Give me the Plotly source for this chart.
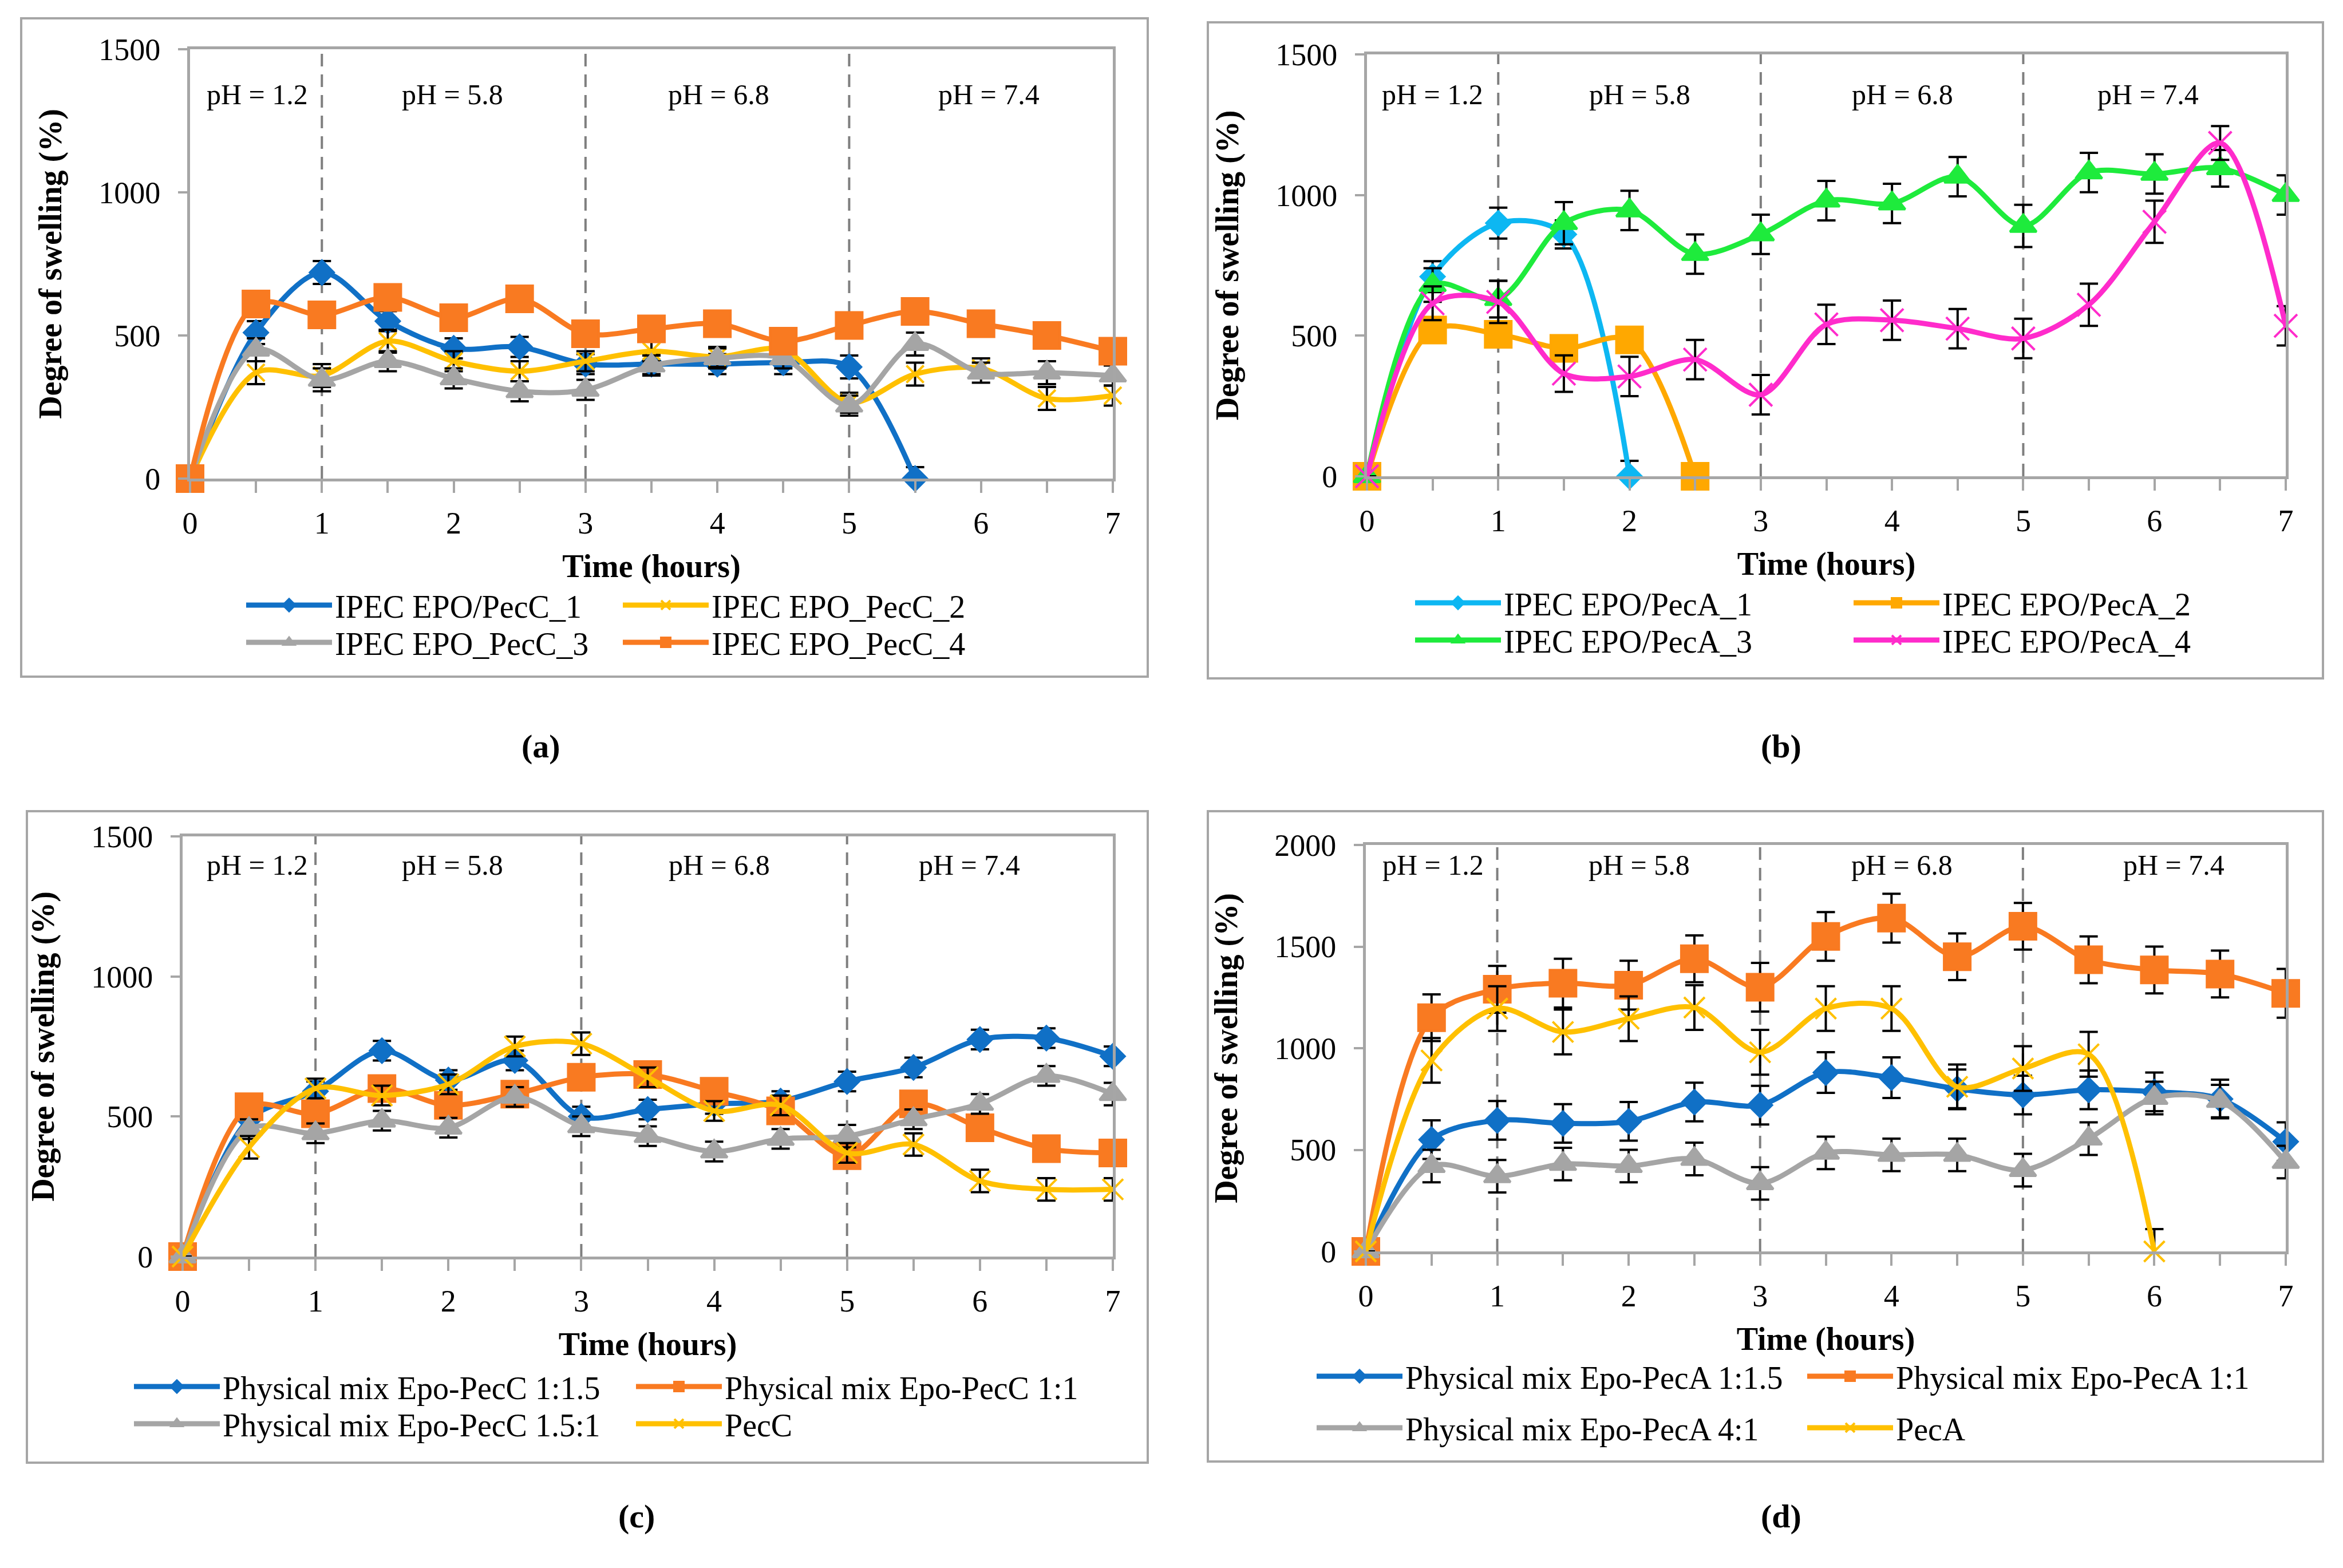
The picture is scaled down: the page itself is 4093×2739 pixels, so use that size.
import plotly.graph_objects as go

W, H = 4093, 2739

# time points (hours)
time_h = [0, 0.5, 1, 1.5, 2, 2.5, 3, 3.5, 4, 4.5, 5, 5.5, 6, 6.5, 7]

# panel (a)
a_names = ['IPEC EPO/PecC_1', 'IPEC EPO_PecC_2', 'IPEC EPO_PecC_3', 'IPEC EPO_PecC_4']
a_pecc1 = [0, 510, 720, 550, 455, 460, 400, 400, 400, 405, 390, 0]
a_pecc1_err = [0, 40, 40, 35, 35, 35, 35, 35, 35, 40, 40, 40]
a_pecc2 = [0, 370, 360, 480, 410, 375, 410, 445, 425, 450, 265, 365, 385, 280, 290]
a_pecc2_err = [0, 40, 40, 40, 35, 35, 35, 35, 35, 35, 35, 40, 35, 40, 35]
a_pecc3 = [0, 450, 345, 410, 350, 305, 310, 395, 420, 420, 255, 470, 370, 370, 360]
a_pecc3_err = [0, 40, 40, 35, 35, 35, 35, 35, 35, 35, 35, 40, 35, 40, 35]
a_pecc4 = [0, 610, 572, 633, 562, 628, 506, 523, 541, 480, 535, 584, 541, 500, 445]
a_pecc4_err = [0, 35, 35, 35, 35, 35, 35, 35, 35, 35, 35, 35, 35, 35, 35]

# panel (b)
b_names = ['IPEC EPO/PecA_1', 'IPEC EPO/PecA_2', 'IPEC EPO/PecA_3', 'IPEC EPO/PecA_4']
b_peca1 = [0, 710, 900, 860, 0]
b_peca1_err = [0, 55, 55, 50, 55]
b_peca2 = [0, 520, 505, 455, 485, 0]
b_peca2_err = [0, 45, 45, 45, 45, 45]
b_peca3 = [0, 680, 630, 900, 945, 790, 860, 980, 970, 1065, 890, 1080, 1075, 1095, 1000]
b_peca3_err = [0, 60, 65, 75, 70, 70, 70, 70, 70, 70, 75, 70, 70, 65, 70]
b_peca4 = [0, 615, 620, 365, 355, 415, 290, 540, 555, 525, 490, 610, 905, 1185, 535]
b_peca4_err = [0, 60, 75, 65, 70, 70, 70, 70, 70, 70, 70, 75, 75, 60, 70]

# panel (c)
c_names = ['Physical mix Epo-PecC 1:1.5', 'Physical mix Epo-PecC 1:1',
           'Physical mix Epo-PecC 1.5:1', 'PecC']
c_mix115 = [0, 490, 590, 735, 630, 700, 500, 525, 545, 555, 625, 675, 775, 780, 715]
c_mix115_err = [0, 35, 35, 35, 35, 35, 35, 35, 35, 35, 35, 35, 35, 35, 35]
c_mix11 = [0, 535, 510, 600, 540, 580, 640, 650, 590, 520, 360, 545, 460, 385, 370]
c_mix11_err = [0, 35, 35, 35, 35, 35, 35, 35, 35, 35, 35, 35, 35, 35, 35]
c_mix151 = [0, 455, 440, 485, 460, 570, 465, 430, 375, 420, 430, 490, 545, 645, 580]
c_mix151_err = [0, 35, 35, 35, 35, 35, 35, 35, 35, 35, 40, 35, 35, 35, 40]
c_pecc = [0, 390, 600, 575, 615, 750, 760, 640, 520, 540, 370, 400, 270, 240, 240]
c_pecc_err = [0, 40, 35, 35, 35, 35, 40, 35, 35, 35, 35, 40, 40, 40, 40]

# panel (d)
d_names = ['Physical mix Epo-PecA 1:1.5', 'Physical mix Epo-PecA 1:1',
           'Physical mix Epo-PecA 4:1', 'PecA']
d_mix115 = [0, 550, 645, 630, 640, 735, 720, 880, 855, 800, 770, 795, 785, 750, 540]
d_mix115_err = [0, 95, 95, 95, 95, 95, 95, 100, 100, 95, 95, 95, 95, 95, 95]
d_mix11 = [0, 1150, 1290, 1320, 1310, 1440, 1300, 1550, 1640, 1450, 1600, 1435, 1385, 1365, 1270]
d_mix11_err = [0, 115, 115, 120, 120, 115, 120, 120, 120, 115, 115, 115, 115, 115, 120]
d_mix41 = [0, 420, 370, 430, 420, 455, 335, 485, 475, 475, 400, 555, 755, 740, 440]
d_mix41_err = [0, 80, 80, 80, 80, 80, 80, 80, 80, 80, 80, 80, 80, 80, 80]
d_peca = [0, 940, 1195, 1080, 1145, 1200, 980, 1195, 1195, 810, 900, 970, 0]
d_peca_err = [0, 110, 110, 110, 110, 110, 110, 110, 110, 110, 110, 110, 110]

ph_labels = ['pH = 1.2', 'pH = 5.8', 'pH = 6.8', 'pH = 7.4']
ph_change_h = [1, 3, 5]

BLUE, YELLOW, GRAY, ORANGE = '#1070C6', '#FFC000', '#A5A5A5', '#F97A21'
SKY, AMBER, GREEN, MAGENTA = '#0DB7F2', '#FFA800', '#1EEB3C', '#FF2BCB'
SERIF = 'Liberation Serif'

fig = go.Figure()


def px_x(v):
    return v / W


def px_y(v):
    return 1 - v / H


# plot box, y max, pH label spots, outer frame, panel tag and legend rows (all in px)
panels = [
    dict(key='', box=(324, 1936, 78, 828), ymax=1500, ph_x=[0.51, 1.99, 4.01, 6.06], ph_y=1342,
         frame=(29, 1997, 24, 1174), tag='(a)', tag_xy=(901, 1295),
         rows=[(425, 1049), (425, 1114)], entry=663),
    dict(key='2', box=(2380, 3985, 87, 824), ymax=1500, ph_x=[0.50, 2.08, 4.08, 5.95], ph_y=1357,
         frame=(2102, 4050, 31, 1177), tag='(b)', tag_xy=(3141, 1295),
         rows=[(2467, 1045), (2467, 1110)], entry=771),
    dict(key='3', box=(311, 1936, 1453, 2187), ymax=1500, ph_x=[0.56, 2.03, 4.04, 5.92], ph_y=1398,
         frame=(39, 1997, 1409, 2547), tag='(c)', tag_xy=(1070, 2675),
         rows=[(229, 2414), (229, 2479)], entry=882),
    dict(key='4', box=(2378, 3985, 1468, 2178), ymax=2000, ph_x=[0.51, 2.08, 4.08, 6.15], ph_y=1901,
         frame=(2102, 4050, 1409, 2545), tag='(d)', tag_xy=(3141, 2675),
         rows=[(2295, 2396), (2295, 2486)], entry=862),
]

series = [
    [(a_names[0], a_pecc1, a_pecc1_err, BLUE, 'diamond', 32),
     (a_names[1], a_pecc2, a_pecc2_err, YELLOW, 'x-thin', 30),
     (a_names[2], a_pecc3, a_pecc3_err, GRAY, 'triangle-up', 40),
     (a_names[3], a_pecc4, a_pecc4_err, ORANGE, 'square', 46)],
    [(b_names[0], b_peca1, b_peca1_err, SKY, 'diamond', 32),
     (b_names[1], b_peca2, b_peca2_err, AMBER, 'square', 46),
     (b_names[2], b_peca3, b_peca3_err, GREEN, 'triangle-up', 40),
     (b_names[3], b_peca4, b_peca4_err, MAGENTA, 'x-thin', 40)],
    [(c_names[0], c_mix115, c_mix115_err, BLUE, 'diamond', 32),
     (c_names[1], c_mix11, c_mix11_err, ORANGE, 'square', 46),
     (c_names[2], c_mix151, c_mix151_err, GRAY, 'triangle-up', 40),
     (c_names[3], c_pecc, c_pecc_err, YELLOW, 'x-thin', 36)],
    [(d_names[0], d_mix115, d_mix115_err, BLUE, 'diamond', 32),
     (d_names[1], d_mix11, d_mix11_err, ORANGE, 'square', 46),
     (d_names[2], d_mix41, d_mix41_err, GRAY, 'triangle-up', 40),
     (d_names[3], d_peca, d_peca_err, YELLOW, 'x-thin', 36)],
]

shapes = []
annotations = []
layout_extra = {}
legend_n = 0

for p, sers in zip(panels, series):
    k = p['key']
    x0, x1, y0, y1 = p['box']
    xa, ya = 'xaxis' + k, 'yaxis' + k
    xref, yref = 'x' + k, 'y' + k

    # legend rows: entries 1-2 on the first row, 3-4 on the second
    leg_ids = []
    for (lx, ly) in p['rows']:
        legend_n += 1
        lid = 'legend' if legend_n == 1 else 'legend%d' % legend_n
        leg_ids.append(lid)
        layout_extra[lid] = dict(
            orientation='h', x=px_x(lx - 8), y=px_y(ly), xanchor='left', yanchor='middle',
            font=dict(family=SERIF, size=56, color='black'), bgcolor='rgba(0,0,0,0)',
            itemwidth=150, entrywidth=p['entry'] - 170, traceorder='normal',
        )

    for i, (name, vals, err, col, sym, msize) in enumerate(sers):
        fig.add_trace(go.Scatter(
            x=time_h[:len(vals)], y=vals, name=name, mode='lines+markers',
            xaxis=xref, yaxis=yref, legend=leg_ids[i // 2],
            line=dict(color=col, width=9, shape='spline', smoothing=0.9),
            marker=dict(symbol=sym, size=msize, color=col, line=dict(color=col, width=4)),
            error_y=dict(type='data', array=err, visible=True, color='black', thickness=4, width=16),
            cliponaxis=False,
        ))

    layout_extra[xa] = dict(
        domain=[px_x(x0), px_x(x1)], range=[0, 7], anchor=yref, automargin=False,
        tickmode='linear', tick0=0, dtick=1, ticks='outside', ticklen=20, tickwidth=4,
        tickcolor='#A6A6A6', showline=True, linecolor='#A6A6A6', linewidth=5, mirror=True,
        showgrid=False, zeroline=False, ticklabelstandoff=6,
        minor=dict(dtick=0.5, ticks='outside', ticklen=20, tickwidth=4, tickcolor='#A6A6A6'),
        tickfont=dict(family=SERIF, size=54, color='black'),
        title=dict(text='<b>Time (hours)</b>', standoff=28,
                   font=dict(family=SERIF, size=56, color='black')),
    )
    layout_extra[ya] = dict(
        domain=[px_y(y1), px_y(y0)], range=[0, p['ymax']], anchor=xref, automargin=False,
        tickmode='linear', tick0=0, dtick=500, ticks='outside', ticklen=16, tickwidth=4,
        tickcolor='#A6A6A6', showline=True, linecolor='#A6A6A6', linewidth=5, mirror=True,
        showgrid=False, zeroline=False, ticklabelstandoff=20,
        tickfont=dict(family=SERIF, size=54, color='black'),
        title=dict(text='<b>Degree of swelling (%)</b>', standoff=48,
                   font=dict(family=SERIF, size=56, color='black')),
    )

    # dashed boundaries between pH stages
    for t in ph_change_h:
        shapes.append(dict(type='line', xref=xref, yref=yref, x0=t, x1=t, y0=0, y1=p['ymax'],
                           line=dict(color='#7F7F7F', width=4, dash='22px,14px'), layer='below'))
    for lab, hx in zip(ph_labels, p['ph_x']):
        annotations.append(dict(text=lab, x=hx, y=p['ph_y'], xref=xref, yref=yref,
                                showarrow=False, font=dict(family=SERIF, size=50, color='black')))

    # outer frame of each panel
    fx0, fx1, fy0, fy1 = p['frame']
    shapes.append(dict(type='rect', xref='paper', yref='paper',
                       x0=px_x(fx0), x1=px_x(fx1), y0=px_y(fy1), y1=px_y(fy0),
                       line=dict(color='#A6A6A6', width=4), layer='below'))
    tx, ty = p['tag_xy']
    annotations.append(dict(text='<b>%s</b>' % p['tag'], x=px_x(tx), y=px_y(ty),
                            xref='paper', yref='paper', showarrow=False,
                            font=dict(family=SERIF, size=58, color='black')))

fig.update_layout(
    width=W, height=H, margin=dict(l=0, r=0, t=0, b=0, autoexpand=False),
    paper_bgcolor='white', plot_bgcolor='white',
    shapes=shapes, annotations=annotations, **layout_extra,
)

fig.write_html('out.html')
